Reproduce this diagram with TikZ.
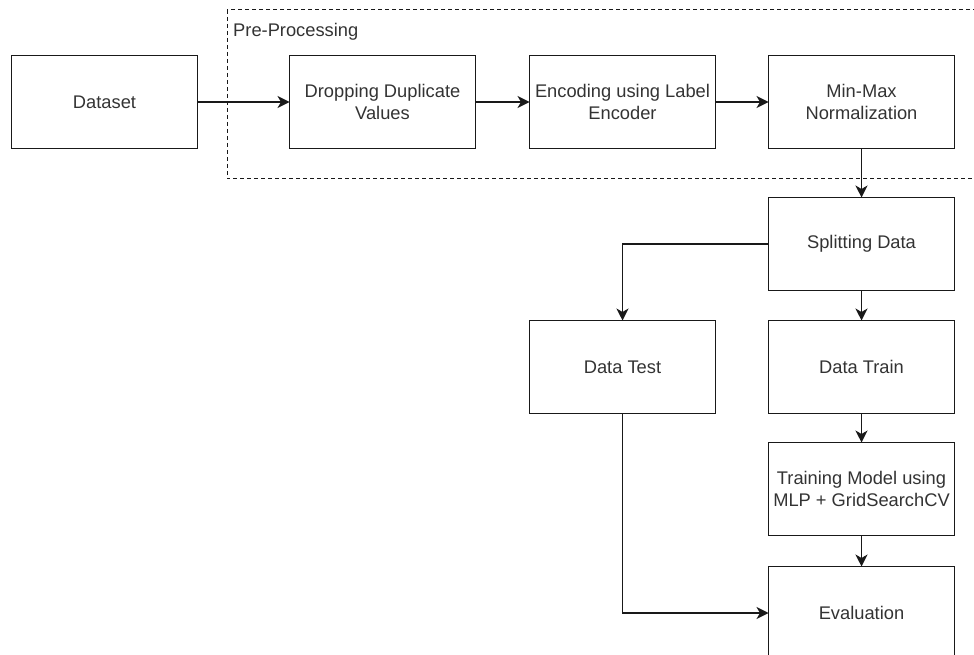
\documentclass[tikz,border=0pt]{standalone}
\usepackage{fontspec}
\setmainfont{Liberation Sans}
\usetikzlibrary{positioning,arrows.meta}

\begin{document}
\begin{tikzpicture}[
	x=1pt, y=1pt,
	font=\fontsize{18.3}{22.5}\selectfont,
	box/.style={draw=black!90, line width=1.2pt, minimum width=186pt, minimum height=93pt, align=center, inner sep=0pt, outer sep=0pt, text=black!80},
	flow/.style={draw=black!90, line width=1.2pt, -{Stealth[length=12pt,width=12pt,inset=3.5pt]}}
	]
	\useasboundingbox (0,0) rectangle (974,-655);
	% pre-processing region
	\draw[line width=1pt, dash pattern=on 4pt off 3pt, black!90] (227,-10) rectangle (1000,-179);
	\node[anchor=west, inner sep=0pt, text=black!80] (prelabel) at (233,-32) {Pre-Processing};
	% steps
	\node[box] (dataset) at (104.5,-102) {Dataset};
	\node[box, right=92pt of dataset] (dropping) {Dropping Duplicate\\Values};
	\node[box, right=54pt of dropping] (encoding) {Encoding using Label\\Encoder};
	\node[box, right=53pt of encoding] (minmax) {Min-Max\\Normalization};
	\node[box, below=49pt of minmax] (split) {Splitting Data};
	\node[box, below=30pt of split] (datatrain) {Data Train};
	\node[box, left=53pt of datatrain] (datatest) {Data Test};
	\node[box, below=29pt of datatrain] (training) {Training Model using\\MLP + GridSearchCV};
	\node[box, below=31pt of training] (eval) {Evaluation};
	% connectors
	\draw[flow] (dataset) -- (dropping);
	\draw[flow] (dropping) -- (encoding);
	\draw[flow] (encoding) -- (minmax);
	\draw[flow] (minmax) -- (split);
	\draw[flow] (split) -| (datatest);
	\draw[flow] (split) -- (datatrain);
	\draw[flow] (datatrain) -- (training);
	\draw[flow] (training) -- (eval);
	\draw[flow] (datatest) |- (eval);
\end{tikzpicture}
\end{document}
